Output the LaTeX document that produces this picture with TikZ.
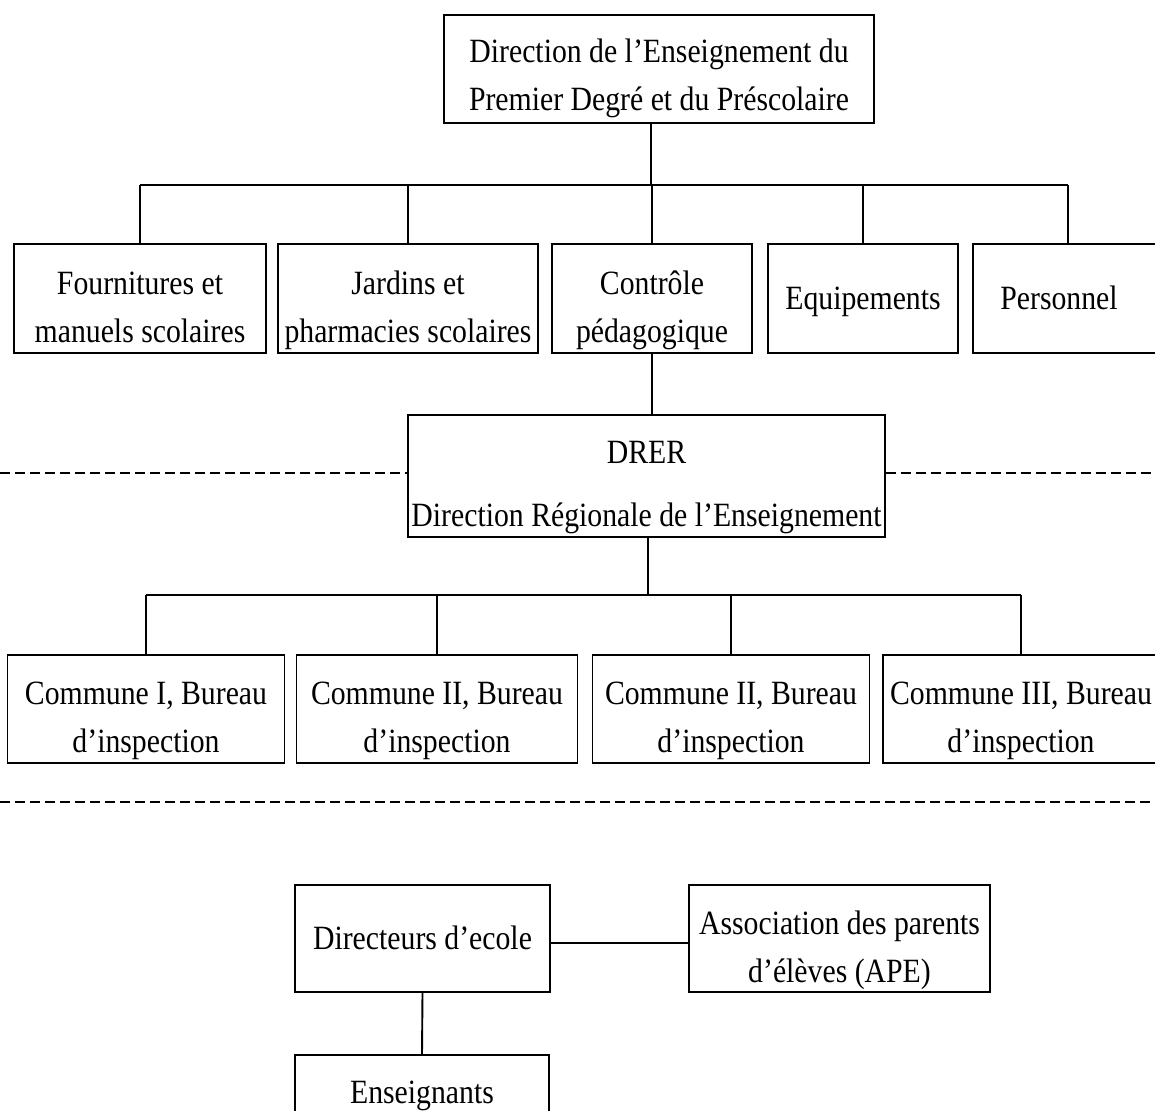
\documentclass[tikz,border=0pt]{standalone}
\usepackage{fontspec}
\setmainfont{Liberation Serif}[FakeStretch=0.875]
\begin{document}
\begin{tikzpicture}[x=1pt,y=-1pt,
  frame/.style={draw, line width=1.3pt, inner sep=0pt},
  txt/.style={align=center, inner sep=0pt, font=\fontsize{34pt}{48pt}\selectfont},
  two/.style={label={[txt, yshift=-10pt]center:\strut #1\strut}},
  one/.style={label={[txt, yshift=-1pt]center:\strut #1}},
  conn/.style={line width=1.9pt},
  bus/.style={line width=1.1pt},
  sep/.style={line width=1.8pt, dash pattern=on 10pt off 5pt}]
\useasboundingbox (0,0) rectangle (1155,1110);
\clip (0,0) rectangle (1155,1110);
\fill[white] (0,0) rectangle (1155,1110);

% top
\node[frame, minimum width=430pt, minimum height=108pt,
  label={[txt, yshift=-8pt]center:\strut Direction de l’Enseignement du\\Premier Degré et du Préscolaire\strut}] (top) at (659,69) {};

% row 2
\node[frame, minimum width=252pt, minimum height=109pt, two={Fournitures et\\manuels scolaires}] (F) at (140,298.5) {};
\node[frame, minimum width=260pt, minimum height=109pt, two={Jardins et\\pharmacies scolaires}] (J) at (408,298.5) {};
\node[frame, minimum width=200pt, minimum height=109pt, two={Contrôle\\pédagogique}] (C) at (652,298.5) {};
\node[frame, minimum width=190pt, minimum height=109pt, one={Equipements}] (E) at (863,298.5) {};
\node[frame, minimum width=190pt, minimum height=109pt,
  label={[txt, yshift=-1pt, xshift=-9pt]center:\strut Personnel}] (P) at (1068,298.5) {};

\coordinate (j1) at (651,185);
\draw[conn] (j1 |- top.south) -- (j1);
\draw[bus] (F.north |- j1) -- (P.north |- j1);
\foreach \n in {F,J,C,E,P} \draw[conn] (\n.north) -- (\n.north |- j1);

% DRER
\node[frame, minimum width=477pt, minimum height=122pt,
  label={[txt, yshift=-12pt]center:{DRER\\[15pt]Direction Régionale de l’Enseignement}}] (D) at (646.5,476) {};
\draw[conn] (C.south) -- (C.south |- D.north);

\coordinate (L1) at (0,473);
\coordinate (R1) at (1155,473);
\draw[sep] (L1) -- (L1 -| D.west);
\draw[sep] (D.east |- R1) -- (R1);

% communes
\node[frame, minimum width=277pt, minimum height=108pt, two={Commune I, Bureau\\d’inspection}] (C1) at (146,709) {};
\node[frame, minimum width=281pt, minimum height=108pt, two={Commune II, Bureau\\d’inspection}] (C2) at (437,709) {};
\node[frame, minimum width=277pt, minimum height=108pt, two={Commune II, Bureau\\d’inspection}] (C3) at (731,709) {};
\node[frame, minimum width=276pt, minimum height=108pt, two={Commune III, Bureau\\d’inspection}] (C4) at (1021,709) {};

\coordinate (j2) at (648,595);
\draw[conn] (j2 |- D.south) -- (j2);
\draw[bus] (C1.north |- j2) -- (C4.north |- j2);
\foreach \n in {C1,C2,C3,C4} \draw[conn] (\n.north) -- (\n.north |- j2);

\coordinate (L2) at (0,802);
\coordinate (R2) at (1155,802);
\draw[sep] (L2) -- (R2);

% bottom
\node[frame, minimum width=255pt, minimum height=107pt, one={Directeurs d’ecole}] (Dir) at (422.5,938.5) {};
\node[frame, minimum width=301pt, minimum height=107pt, two={Association des parents\\d’élèves (APE)}] (APE) at (839.5,938.5) {};
\node[frame, minimum width=254pt, minimum height=76pt,
  label={[txt, yshift=-3pt]center:Enseignants}] (Ens) at (422,1093) {};

\coordinate (k) at (620,943);
\draw[bus] (Dir.east |- k) -- (APE.west |- k);
\draw[conn] (Dir.south) -- (Ens.north);
\end{tikzpicture}
\end{document}
